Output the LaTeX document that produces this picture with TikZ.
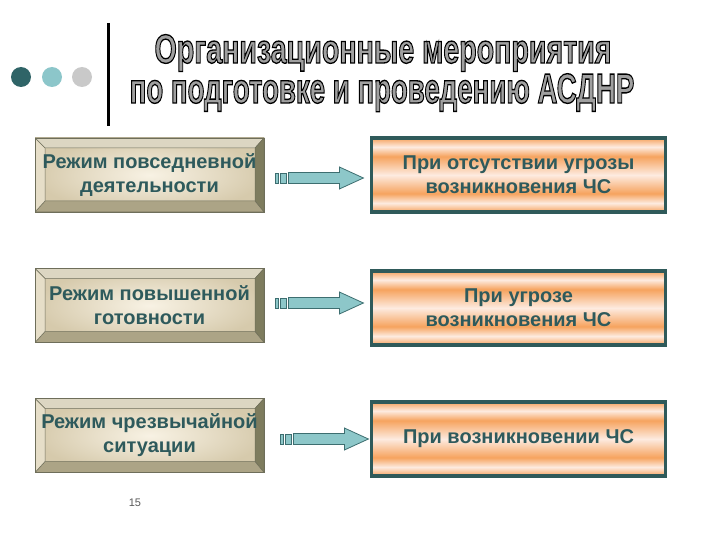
\documentclass[tikz,border=0pt]{standalone}
\usepackage{fontspec}
\setmainfont{Liberation Sans}
\usetikzlibrary{calc}
\definecolor{dteal}{HTML}{2F6467}
\definecolor{lteal}{HTML}{8CC6CA}
\definecolor{lgrey}{HTML}{C9C9C9}
\definecolor{txt}{HTML}{2E5A5C}
\definecolor{orng}{HTML}{F6A35E}
\definecolor{pale}{HTML}{FDEBE0}
\definecolor{rborder}{HTML}{2F5A5A}
\definecolor{arrfill}{HTML}{8DC7C9}
\definecolor{arrdraw}{HTML}{3D6E70}
\definecolor{face1}{HTML}{F8F2E4}
\definecolor{face2}{HTML}{D6CAAC}
\definecolor{bevT}{HTML}{DCD6C2}
\definecolor{bevL}{HTML}{E6DEC8}
\definecolor{bevR}{HTML}{7E7C5E}
\definecolor{bevB}{HTML}{ACA486}
\definecolor{bevline}{HTML}{6E6E5A}
\definecolor{titlefill}{HTML}{A0A0A0}
\pgfdeclareverticalshading{stripes}{100bp}{color(0bp)=(orng); color(25bp)=(orng); color(31bp)=(pale); color(37.5bp)=(orng); color(50bp)=(pale); color(62.5bp)=(orng); color(69bp)=(pale); color(75bp)=(orng); color(100bp)=(orng)}
\newcommand\outl[1]{\special{pdf:literal direct 0 G 1.3 w 2 Tr}#1\special{pdf:literal direct 0 Tr}}
\tikzset{
  boxtext/.style={font=\bfseries\fontsize{20}{24}\selectfont, text=txt, align=center},
  lbox/.style={boxtext, minimum width=229pt, minimum height=74pt, inner sep=0pt,
    shading=radial, inner color=face1, outer color=face2, draw=bevline, line width=0.8pt,
    path picture={
      \coordinate (nw) at (path picture bounding box.north west);
      \coordinate (ne) at (path picture bounding box.north east);
      \coordinate (sw) at (path picture bounding box.south west);
      \coordinate (se) at (path picture bounding box.south east);
      \filldraw[fill=bevT, draw=bevline, line width=0.5pt] (nw) -- (ne) -- ($(ne)+(-9,10)$) -- ($(nw)+(10,10)$) -- cycle;
      \filldraw[fill=bevR, draw=bevline, line width=0.5pt] (ne) -- (se) -- ($(se)+(-9,-11)$) -- ($(ne)+(-9,10)$) -- cycle;
      \filldraw[fill=bevB, draw=bevline, line width=0.5pt] (se) -- (sw) -- ($(sw)+(10,-11)$) -- ($(se)+(-9,-11)$) -- cycle;
      \filldraw[fill=bevL, draw=bevline, line width=0.5pt] (sw) -- (nw) -- ($(nw)+(10,10)$) -- ($(sw)+(10,-11)$) -- cycle;
    }},
  rbox/.style={boxtext, minimum width=294pt, minimum height=74pt, inner sep=0pt,
    shading=stripes, draw=rborder, line width=3.5pt},
  dot/.style={circle, minimum size=20pt, inner sep=0pt},
  blockarrow/.pic={
    \filldraw[fill=arrfill, draw=arrdraw, line width=0.8pt] (0,-5) rectangle (2.5,5);
    \filldraw[fill=arrfill, draw=arrdraw, line width=0.8pt] (5,-5) rectangle (11,5);
    \filldraw[fill=arrfill, draw=arrdraw, line width=0.8pt] (13,-5.5) -- (64,-5.5) -- (64,-11) -- (88,0) -- (64,11) -- (64,5.5) -- (13,5.5) -- cycle;
  },
  titletext/.style={font=\bfseries\fontsize{40}{40}\selectfont, text=titlefill, inner sep=0pt, anchor=base}
}
\begin{document}
\begin{tikzpicture}[x=1pt, y=-1pt]
\useasboundingbox[fill=white] (0,0) rectangle (720,540);
% dots and rule
\node[dot, fill=dteal] (d1) at (21,77) {};
\node[dot, fill=lteal] (d2) at (52,77) {};
\node[dot, fill=lgrey] (d3) at (82,77) {};
\coordinate (rtop) at (108,23);
\coordinate (rbot) at (108,126);
\draw[line width=3pt] (rtop) -- (rbot);
% boxes
\node[lbox] (L1) at (149.5,175) {Режим повседневной\\деятельности};
\node[lbox] (L2) at (149.5,305.5) {Режим повышенной\\готовности};
\node[lbox] (L3) at (149.5,435.5) {Режим чрезвычайной\\ситуации};
\node[rbox] (R1) at (518.5,175) {При отсутствии угрозы\\возникновения ЧС};
\node[rbox] (R2) at (518.5,308) {При угрозе\\возникновения ЧС};
\node[rbox] (R3) at (518.5,439) {При возникновении ЧС};
% arrows
\pic at ($(L1.east)+(11,3)$) {blockarrow};
\pic at ($(L2.east)+(11,-2.5)$) {blockarrow};
\pic at ($(L3.east)+(16,3.5)$) {blockarrow};
% page number
\node[font=\fontsize{11}{13}\selectfont, text=black!65] (pg) at (135,503) {15};
% title
\node[titletext] (t1) at (383,63) {\scalebox{0.715}[1.02]{\outl{Организационные мероприятия}}};
\node[titletext] (t2) at (382,103) {\scalebox{0.69}[1.05]{\outl{по подготовке и проведению АСДНР}}};
\end{tikzpicture}
\end{document}
